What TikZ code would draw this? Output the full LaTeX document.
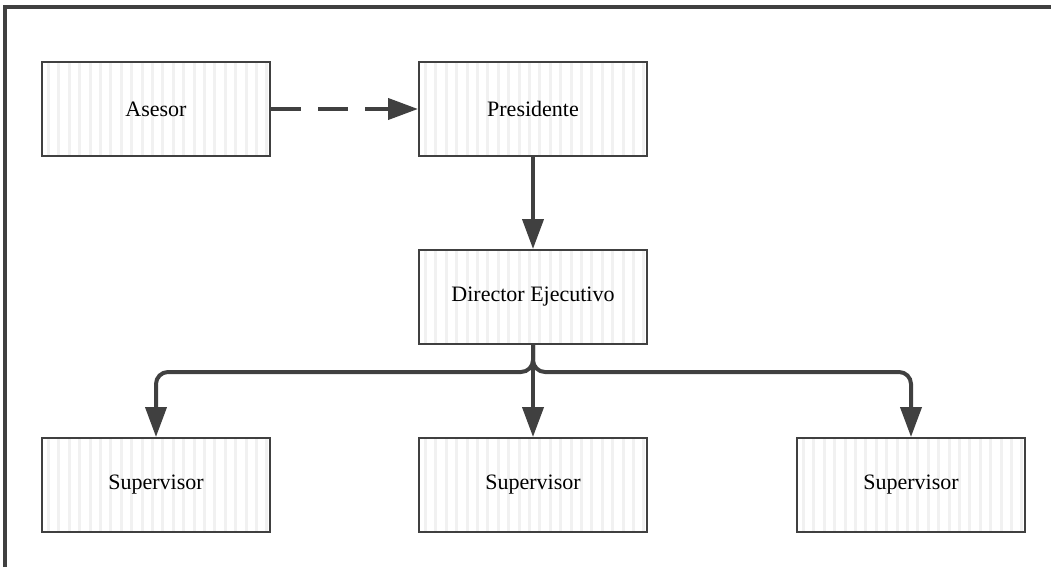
\documentclass[tikz,border=0pt]{standalone}
\usepackage{fontspec}
\setmainfont{Liberation Serif}
\usetikzlibrary{arrows.meta}
\definecolor{ink}{HTML}{404040}
\definecolor{stripe}{HTML}{F1F1F1}
\tikzset{
  orgbox/.style={draw=ink, line width=2pt, fill=white,
    minimum width=228pt, minimum height=94pt, inner sep=0pt,
    font=\fontsize{22}{26}\selectfont,
    path picture={
      \foreach \i in {0,...,21}
        \fill[stripe] ([xshift=\i*10.4pt+5pt]path picture bounding box.south west)
          rectangle ++(3pt,94pt);
    }},
  link/.style={draw=ink, line width=4pt, rounded corners=12pt,
    -{Triangle[length=30pt,width=21pt]}},
}
\begin{document}
\begin{tikzpicture}[x=1pt,y=-1pt]
  \useasboundingbox (0,0) rectangle (1051,567);
  % frame: top and left edges only
  \draw[ink, line width=4pt] (5,567) -- (5,7) -- (1051,7);

  \node[orgbox] (asesor) at (156,109) {Asesor};
  \node[orgbox] (pres)   at (533,109) {Presidente};
  \node[orgbox] (dir)    at (533,297) {Director Ejecutivo};
  \node[orgbox] (supL)   at (156,485) {Supervisor};
  \node[orgbox] (supM)   at (533,485) {Supervisor};
  \node[orgbox] (supR)   at (911,485) {Supervisor};

  \coordinate (bus) at (533,372);

  \draw[link, dash pattern=on 30pt off 17pt] (asesor.east) -- (pres.west);
  \draw[link] (pres.south) -- (dir.north);
  \draw[link] (dir.south) -- (bus) -| (supL.north);
  \draw[link] (dir.south) -- (supM.north);
  \draw[link] (dir.south) -- (bus) -| (supR.north);
\end{tikzpicture}
\end{document}
